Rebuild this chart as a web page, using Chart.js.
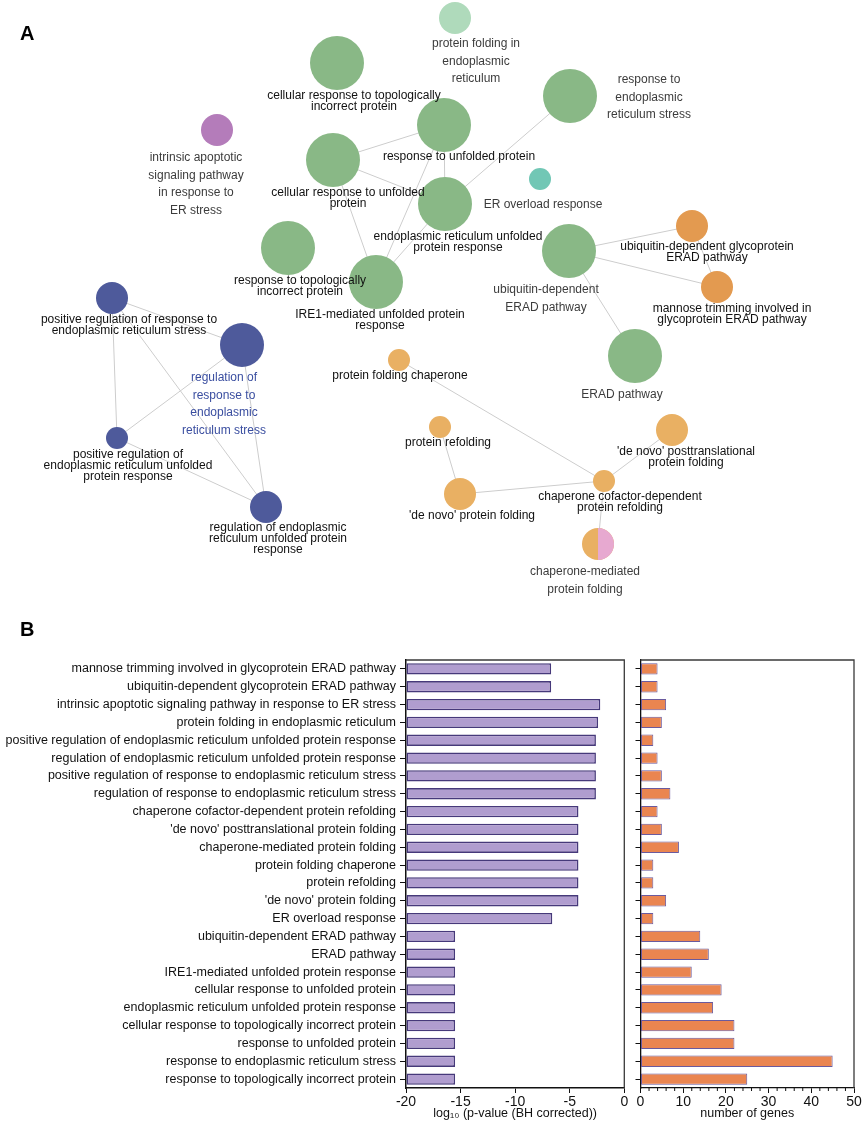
<!DOCTYPE html>
<html>
<head>
<meta charset="utf-8">
<script src="https://cdn.jsdelivr.net/npm/chart.js@4"></script>
<style>
  body { margin: 0; background: #fff; }
  #wrap { position: relative; width: 865px; height: 1128px; overflow: hidden; }
  .box { position: absolute; }
  .tag { position: absolute; font: bold 20px "Liberation Sans", Arial, sans-serif; color: #000; }
</style>
</head>
<body>
<div id="wrap">
  <div class="box" style="left:0;top:0;width:865px;height:615px"><canvas id="net" width="865" height="615"></canvas></div>
  <div class="box" style="left:0;top:640px;width:640px;height:488px"><canvas id="pval" width="640" height="488"></canvas></div>
  <div class="box" style="left:625px;top:640px;width:240px;height:488px"><canvas id="genes" width="240" height="488"></canvas></div>
  <div class="tag" style="left:20px;top:22px">A</div>
  <div class="tag" style="left:20px;top:618px">B</div>
</div>
<script>
Chart.defaults.font.family = '"Liberation Sans", Arial, sans-serif';
Chart.defaults.color = "#111";

// ---- panel A: term network ----
const nodeNames = [
  "cellular response to topologically incorrect protein",
  "intrinsic apoptotic signaling pathway in response to ER stress",
  "cellular response to unfolded protein",
  "response to topologically incorrect protein",
  "IRE1-mediated unfolded protein response",
  "protein folding in endoplasmic reticulum",
  "response to unfolded protein",
  "response to endoplasmic reticulum stress",
  "endoplasmic reticulum unfolded protein response",
  "ER overload response",
  "ubiquitin-dependent ERAD pathway",
  "ubiquitin-dependent glycoprotein ERAD pathway",
  "mannose trimming involved in glycoprotein ERAD pathway",
  "positive regulation of response to endoplasmic reticulum stress",
  "regulation of response to endoplasmic reticulum stress",
  "positive regulation of endoplasmic reticulum unfolded protein response",
  "regulation of endoplasmic reticulum unfolded protein response",
  "protein folding chaperone",
  "ERAD pathway",
  "protein refolding",
  "'de novo' posttranslational protein folding",
  "chaperone cofactor-dependent protein refolding",
  "'de novo' protein folding",
  "chaperone-mediated protein folding"
];
const nodeX = [337, 217, 333, 288, 376, 455, 444, 570, 445, 540, 569, 692, 717, 112, 242, 117, 266, 399, 635, 440, 672, 604, 460, 598];
const nodeY = [63, 130, 160, 248, 282, 18, 125, 96, 204, 179, 251, 226, 287, 298, 345, 438, 507, 360, 356, 427, 430, 481, 494, 544];
const nodeR = [27, 16, 27, 27, 27, 16, 27, 27, 27, 11, 27, 16, 16, 16, 22, 11, 16, 11, 27, 11, 16, 11, 16, 16];
const edgeFrom = [2, 2, 2, 6, 6, 8, 8, 10, 10, 11, 10, 13, 13, 13, 14, 14, 15, 17, 19, 22, 21, 21];
const edgeTo   = [6, 8, 4, 4, 8, 7, 4, 11, 12, 12, 18, 14, 15, 16, 15, 16, 16, 21, 22, 21, 20, 23];

// label text, wrapped as in the picture
const labelLines = [
  ["cellular response to topologically", "incorrect protein"],
  ["intrinsic apoptotic", "signaling pathway", "in response to", "ER stress"],
  ["cellular response to unfolded", "protein"],
  ["response to topologically", "incorrect protein"],
  ["IRE1-mediated unfolded protein", "response"],
  ["protein folding in", "endoplasmic", "reticulum"],
  ["response to unfolded protein"],
  ["response to", "endoplasmic", "reticulum stress"],
  ["endoplasmic reticulum unfolded", "protein response"],
  ["ER overload response"],
  ["ubiquitin-dependent", "ERAD pathway"],
  ["ubiquitin-dependent glycoprotein", "ERAD pathway"],
  ["mannose trimming involved in", "glycoprotein ERAD pathway"],
  ["positive regulation of response to", "endoplasmic reticulum stress"],
  ["regulation of", "response to", "endoplasmic", "reticulum stress"],
  ["positive regulation of", "endoplasmic reticulum unfolded", "protein response"],
  ["regulation of endoplasmic", "reticulum unfolded protein", "response"],
  ["protein folding chaperone"],
  ["ERAD pathway"],
  ["protein refolding"],
  ["'de novo' posttranslational", "protein folding"],
  ["chaperone cofactor-dependent", "protein refolding"],
  ["'de novo' protein folding"],
  ["chaperone-mediated", "protein folding"]
];
const labelX = [354, 196, 348, 300, 380, 476, 459, 649, 458, 543, 546, 707, 732, 129, 224, 128, 278, 400, 622, 448, 686, 620, 472, 585];
const labelY = [96, 158, 193, 281, 315, 44, 157, 80, 237, 205, 290, 247, 309, 320, 378, 455, 528, 376, 395, 443, 452, 497, 516, 572];
// 0 = black tight, 1 = grey spaced, 2 = blue spaced
const labelKind = [0, 1, 0, 0, 0, 1, 0, 1, 0, 1, 1, 0, 0, 0, 2, 0, 0, 0, 1, 0, 0, 0, 0, 1];

const groupColor = {
  green: "#89b886", light: "#afdabb", purple: "#b47cba", teal: "#71c7b5",
  blue: "#4e5a9b", orange: "#e39a50", amber: "#e9b063", pink: "#e7a9d0"
};
const nodeGroup = ["green", "purple", "green", "green", "green", "light", "green", "green", "green", "teal",
  "green", "orange", "orange", "blue", "blue", "blue", "blue", "amber", "green", "amber", "amber", "amber", "amber", "amber"];
const splitNode = 23;

// edges sit behind the nodes (higher order = drawn earlier)
const edgeSets = edgeFrom.map((a, i) => ({
  type: "line", order: 1,
  data: [{x: nodeX[a], y: nodeY[a]}, {x: nodeX[edgeTo[i]], y: nodeY[edgeTo[i]]}],
  borderColor: "#cdcdcd", borderWidth: 1, pointRadius: 0, fill: false
}));

const netLabels = {
  id: "netLabels",
  afterDatasetsDraw(chart) {
    const ctx = chart.ctx, xs = chart.scales.x, ys = chart.scales.y;
    // right half of the two-colour node
    const meta = chart.getDatasetMeta(0);
    const el = meta.data[splitNode];
    ctx.save();
    ctx.fillStyle = groupColor.pink;
    ctx.beginPath();
    ctx.arc(el.x, el.y, nodeR[splitNode], -Math.PI / 2, Math.PI / 2);
    ctx.closePath();
    ctx.fill();
    ctx.textAlign = "center";
    ctx.textBaseline = "middle";
    ctx.font = '12px "Liberation Sans", Arial, sans-serif';
    labelLines.forEach((lines, i) => {
      const k = labelKind[i];
      ctx.fillStyle = k === 0 ? "#111" : (k === 1 ? "#3c3c3c" : "#3a4ea0");
      const step = k === 0 ? 11 : 17.5;
      const cx = xs.getPixelForValue(labelX[i]);
      const cy = ys.getPixelForValue(labelY[i]);
      lines.forEach((t, j) => ctx.fillText(t, cx, cy + j * step));
    });
    ctx.restore();
  }
};

new Chart(document.getElementById("net"), {
  type: "bubble",
  data: {
    datasets: [{
      order: 0,
      data: nodeNames.map((n, i) => ({x: nodeX[i], y: nodeY[i], r: nodeR[i]})),
      backgroundColor: nodeGroup.map(g => groupColor[g]),
      borderWidth: 0, hoverBorderWidth: 0
    }, ...edgeSets]
  },
  options: {
    responsive: false, animation: false,
    layout: {padding: 0, autoPadding: false},
    plugins: {legend: {display: false}, tooltip: {enabled: false}},
    scales: {
      x: {type: "linear", min: 0, max: 865, display: false},
      y: {type: "linear", min: 0, max: 615, reverse: true, display: false}
    }
  },
  plugins: [netLabels]
});

// ---- panel B: bar charts ----
const terms = [
  "mannose trimming involved in glycoprotein ERAD pathway",
  "ubiquitin-dependent glycoprotein ERAD pathway",
  "intrinsic apoptotic signaling pathway in response to ER stress",
  "protein folding in endoplasmic reticulum",
  "positive regulation of endoplasmic reticulum unfolded protein response",
  "regulation of endoplasmic reticulum unfolded protein response",
  "positive regulation of response to endoplasmic reticulum stress",
  "regulation of response to endoplasmic reticulum stress",
  "chaperone cofactor-dependent protein refolding",
  "'de novo' posttranslational protein folding",
  "chaperone-mediated protein folding",
  "protein folding chaperone",
  "protein refolding",
  "'de novo' protein folding",
  "ER overload response",
  "ubiquitin-dependent ERAD pathway",
  "ERAD pathway",
  "IRE1-mediated unfolded protein response",
  "cellular response to unfolded protein",
  "endoplasmic reticulum unfolded protein response",
  "cellular response to topologically incorrect protein",
  "response to unfolded protein",
  "response to endoplasmic reticulum stress",
  "response to topologically incorrect protein"
];
const logP = [-6.7, -6.7, -2.2, -2.4, -2.6, -2.6, -2.6, -2.6, -4.2, -4.2, -4.2, -4.2, -4.2, -4.2, -6.6,
  -15.5, -15.5, -15.5, -15.5, -15.5, -15.5, -15.5, -15.5, -15.5];
const geneCount = [4, 4, 6, 5, 3, 4, 5, 7, 4, 5, 9, 3, 3, 6, 3, 14, 16, 12, 19, 17, 22, 22, 45, 25];
const pTicks = [-20, -15, -10, -5, 0];
const geneTicks = [0, 10, 20, 30, 40, 50];

const lblFont = {size: 12.5};

// box round the plot area (top/right in grey, axes drawn by chart)
const frame = {
  id: "frame",
  afterDraw(chart, args, opts) {
    const {ctx, chartArea: a} = chart;
    ctx.save();
    ctx.strokeStyle = "#3a3a3a";
    ctx.lineWidth = 1.3;
    ctx.beginPath();
    ctx.moveTo(a.left, a.top); ctx.lineTo(a.right, a.top); ctx.lineTo(a.right, a.bottom);
    ctx.stroke();
    if (opts.minor) {
      // small ticks every 2 genes
      const xs = chart.scales.x;
      ctx.strokeStyle = "#111"; ctx.lineWidth = 1;
      for (let v = 2; v < 50; v += 2) {
        if (v % 10 === 0) continue;
        const px = xs.getPixelForValue(v);
        ctx.beginPath(); ctx.moveTo(px, a.bottom); ctx.lineTo(px, a.bottom + 3); ctx.stroke();
      }
    }
    ctx.restore();
  }
};

new Chart(document.getElementById("pval"), {
  type: "bar",
  data: {
    labels: terms,
    datasets: [{
      data: logP, base: -20,
      backgroundColor: "#b09dcf", borderColor: "#46397a", borderWidth: 1.6,
      borderSkipped: false, barPercentage: 0.64, categoryPercentage: 1
    }]
  },
  options: {
    indexAxis: "y", responsive: false, animation: false,
    layout: {padding: {left: 0, right: 15.7, top: 20, bottom: 4}},
    plugins: {legend: {display: false}, tooltip: {enabled: false}, frame: {minor: false}},
    scales: {
      x: {
        min: -20, max: 0,
        afterBuildTicks: s => { s.ticks = pTicks.map(v => ({value: v})); },
        ticks: {font: {size: 14}, color: "#111", padding: 1},
        grid: {drawOnChartArea: false, tickLength: 5, color: "#111"},
        border: {color: "#111", width: 1.5},
        title: {display: true, text: "log₁₀ (p-value (BH corrected))", font: {size: 12.5}, color: "#111", padding: {top: 0, bottom: 3}},
        afterFit: s => { s.height = 36; }
      },
      y: {
        ticks: {font: lblFont, color: "#111", padding: 4, autoSkip: false},
        grid: {drawOnChartArea: false, offset: false, tickLength: 6, color: "#111"},
        border: {color: "#111", width: 1.5},
        afterFit: s => { s.width = 406; }
      }
    }
  },
  plugins: [frame]
});

new Chart(document.getElementById("genes"), {
  type: "bar",
  data: {
    labels: terms,
    datasets: [{
      data: geneCount,
      backgroundColor: "#ea8550", borderColor: "#6a5a9e", borderWidth: 1,
      borderSkipped: false, barPercentage: 0.64, categoryPercentage: 1
    }]
  },
  options: {
    indexAxis: "y", responsive: false, animation: false,
    layout: {padding: {left: 0, right: 11, top: 20, bottom: 4}},
    plugins: {legend: {display: false}, tooltip: {enabled: false}, frame: {minor: true}},
    scales: {
      x: {
        min: 0, max: 50,
        afterBuildTicks: s => { s.ticks = geneTicks.map(v => ({value: v})); },
        ticks: {font: {size: 14}, color: "#111", padding: 1},
        grid: {drawOnChartArea: false, tickLength: 5, color: "#111"},
        border: {color: "#111", width: 1.3},
        title: {display: true, text: "number of genes", font: {size: 12.5}, color: "#111", padding: {top: 0, bottom: 3}},
        afterFit: s => { s.height = 36; }
      },
      y: {
        ticks: {display: false},
        grid: {drawOnChartArea: false, offset: false, tickLength: 5, color: "#111"},
        border: {color: "#111", width: 1.3},
        afterFit: s => { s.width = 15.5; }
      }
    }
  },
  plugins: [frame]
});
</script>
</body>
</html>
